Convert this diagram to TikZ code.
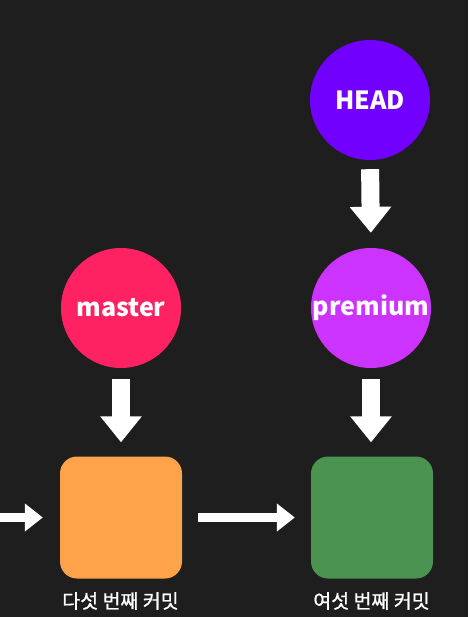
\documentclass[tikz,border=0pt]{standalone}
\usepackage{fontspec}
\setmainfont{Noto Sans CJK KR}
\newfontfamily\krlabel{Noto Sans CJK KR}[FakeBold=0.8]
\usetikzlibrary{arrows.meta}
\definecolor{bgc}{HTML}{1E1E1E}
\definecolor{headc}{HTML}{7200FF}
\definecolor{masterc}{HTML}{FF2262}
\definecolor{premc}{HTML}{CC33FF}
\definecolor{orangec}{HTML}{FFA34B}
\definecolor{greenc}{HTML}{4A9350}
\tikzset{
  refcircle/.style={circle, minimum size=120pt, inner sep=0pt},
  reftext/.style={text=white, inner sep=0pt, font=\bfseries\fontsize{25}{28}\selectfont},
  commitbox/.style={rectangle, rounded corners=17pt, minimum size=122pt, inner sep=0pt},
  vflow/.style={draw=white, line width=18pt, -{Triangle[width=40pt,length=26pt]}},
  hflow/.style={draw=white, line width=9pt, -{Triangle[width=27pt,length=18pt]}},
  caption/.style={text=white, font=\krlabel\fontsize{19.5}{22}\selectfont, inner sep=0pt}
}
\begin{document}
\begin{tikzpicture}[x=1pt,y=-1pt]
\fill[bgc] (0,0) rectangle (468,617);
\useasboundingbox (0,0) rectangle (468,617);
\node[refcircle, fill=headc] (head) at (370,100) {};
\node[refcircle, fill=masterc] (master) at (121,308) {};
\node[refcircle, fill=premc] (premium) at (371,308) {};
\node[reftext] (headt) at (head.center) {HEAD};
\node[reftext] (mastert) at (master.center) {master};
\node[reftext] (premiumt) at (premium.center) {premium};
\node[commitbox, fill=orangec] (c5) at (121,517.5) {};
\node[commitbox, fill=greenc] (c6) at (372,517.5) {};
\node[caption] (l5) at (120.5,601) {다섯 번째 커밋};
\node[caption] (l6) at (371.5,601) {여섯 번째 커밋};
\coordinate (lft) at (0,517.5);
\draw[vflow, shorten <=9pt, shorten >=15pt] (head.south) -- (premium.north);
\draw[vflow, shorten <=11pt, shorten >=14pt] (master.south) -- (master.south |- c5.north);
\draw[vflow, shorten <=11pt, shorten >=14pt] (premium.south) -- (premium.south |- c6.north);
\draw[hflow, shorten >=17pt] (lft) -- (c5.west);
\draw[hflow, shorten <=16pt, shorten >=16pt] (c5.east) -- (c6.west);
\end{tikzpicture}
\end{document}
